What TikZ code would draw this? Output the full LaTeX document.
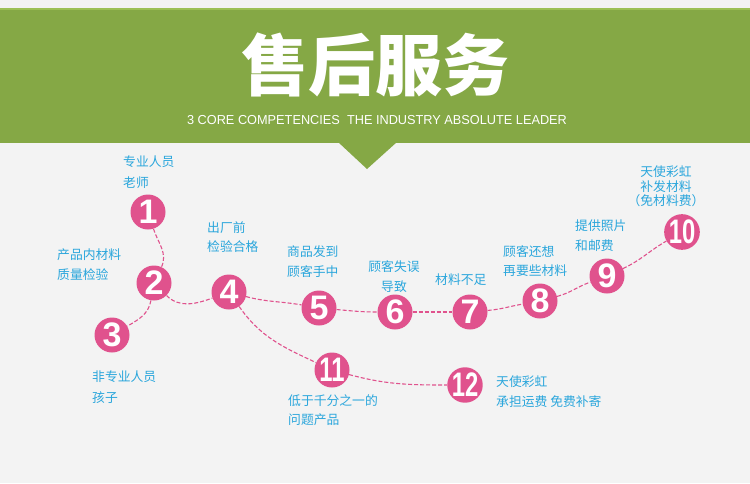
\documentclass[tikz,border=0pt]{standalone}
\usepackage{fontspec}
\setmainfont{Liberation Sans}
\newfontfamily\cjk{Noto Sans CJK SC}
\newfontfamily\numfont{Liberation Sans}
\definecolor{bgc}{HTML}{F3F3F3}
\definecolor{bandc}{HTML}{85A845}
\definecolor{bandl}{HTML}{9CC055}
\definecolor{pinkc}{HTML}{E0528D}
\definecolor{bluec}{HTML}{2AA6DC}
\tikzset{
  stepdot/.style={circle,fill=pinkc,minimum size=35pt,inner sep=0pt,text=white,font=\numfont\bfseries\fontsize{34}{34}\selectfont},
  lbl/.style={text=bluec,font=\cjk\fontsize{12.8}{20}\selectfont,inner sep=0pt},
  lnk/.style={draw=pinkc,dash pattern=on 4pt off 2pt,line width=1.1pt}
}
\newcommand{\narrow}[1]{\scalebox{0.7}[1]{#1}}
\begin{document}
\begin{tikzpicture}[x=1pt,y=-1pt]
\useasboundingbox (0,0) rectangle (750,483);
\fill[bgc] (0,0) rectangle (750,483);
\fill[bandc] (0,8) rectangle (750,143);
\fill[bandl] (0,8) rectangle (750,10);
\fill[bandc] (338,142) -- (397,142) -- (367,169) -- cycle;
\node[text=white,font=\cjk\bfseries\fontsize{67}{67}\selectfont,inner sep=0pt] (title) at (375,65) {售后服务};
\node[text=white,font=\fontsize{13}{13}\selectfont,inner sep=0pt] (sub) at (377,120) {\scalebox{0.98}[1]{3 CORE COMPETENCIES\ \ THE INDUSTRY ABSOLUTE LEADER}};
% circles
\node[stepdot] (n1) at (148,212) {1};
\node[stepdot] (n2) at (154,283) {2};
\node[stepdot] (n3) at (112,335) {3};
\node[stepdot] (n4) at (229,292) {4};
\node[stepdot] (n5) at (319,308) {5};
\node[stepdot] (n6) at (395,312) {6};
\node[stepdot] (n7) at (470,312) {7};
\node[stepdot] (n8) at (540,301) {8};
\node[stepdot] (n9) at (607,276) {9};
\node[stepdot] (n10) at (682,232) {\narrow{10}};
\node[stepdot] (n11) at (332,370) {\narrow{11}};
\node[stepdot] (n12) at (465,385) {\narrow{12}};
% connectors
\draw[lnk] (n1) to[out=-72,in=65] (n2);
\draw[lnk] (n2) to[out=-100,in=30] (n3);
\draw[lnk] (n2) to[out=-45,in=200] (n4);
\draw[lnk] (n4) to[out=-15,in=170] (n5);
\draw[lnk] (n5) to[out=-5,in=180] (n6);
\draw[lnk] (n6) to[out=0,in=180] (n7);
\draw[lnk] (n7) to[out=5,in=190] (n8);
\draw[lnk] (n8) to[out=15,in=200] (n9);
\draw[lnk] (n9) to[out=25,in=210] (n10);
\draw[lnk] (n4) to[out=-55,in=155] (n11);
\draw[lnk] (n11) to[out=-15,in=180] (n12);
% labels
\node[lbl,anchor=west] (l1a) at (123,162) {专业人员};
\node[lbl,anchor=west] (l1b) at (123,183) {老师};
\node[lbl,anchor=west] (l2a) at (57,255) {产品内材料};
\node[lbl,anchor=west] (l2b) at (57,275) {质量检验};
\node[lbl,anchor=west] (l3a) at (92,377) {非专业人员};
\node[lbl,anchor=west] (l3b) at (92,398) {孩子};
\node[lbl,anchor=west] (l4a) at (207,228) {出厂前};
\node[lbl,anchor=west] (l4b) at (207,247) {检验合格};
\node[lbl,anchor=west] (l5a) at (287,252) {商品发到};
\node[lbl,anchor=west] (l5b) at (287,272) {顾客手中};
\node[lbl] (l6a) at (394,267) {顾客失误};
\node[lbl] (l6b) at (394,287) {导致};
\node[lbl,anchor=west] (l7) at (435,280) {材料不足};
\node[lbl,anchor=west] (l8a) at (503,252) {顾客还想};
\node[lbl,anchor=west] (l8b) at (503,271) {再要些材料};
\node[lbl,anchor=west] (l9a) at (575,226) {提供照片};
\node[lbl,anchor=west] (l9b) at (575,246) {和邮费};
\node[lbl] (l10a) at (666,172) {天使彩虹};
\node[lbl] (l10b) at (666,187) {补发材料};
\node[lbl] (l10c) at (666,201) {（免材料费）};
\node[lbl,anchor=west] (l11a) at (288,401) {低于千分之一的};
\node[lbl,anchor=west] (l11b) at (288,420) {问题产品};
\node[lbl,anchor=west] (l12a) at (496,382) {天使彩虹};
\node[lbl,anchor=west] (l12b) at (496,402) {承担运费 免费补寄};
\end{tikzpicture}
\end{document}
